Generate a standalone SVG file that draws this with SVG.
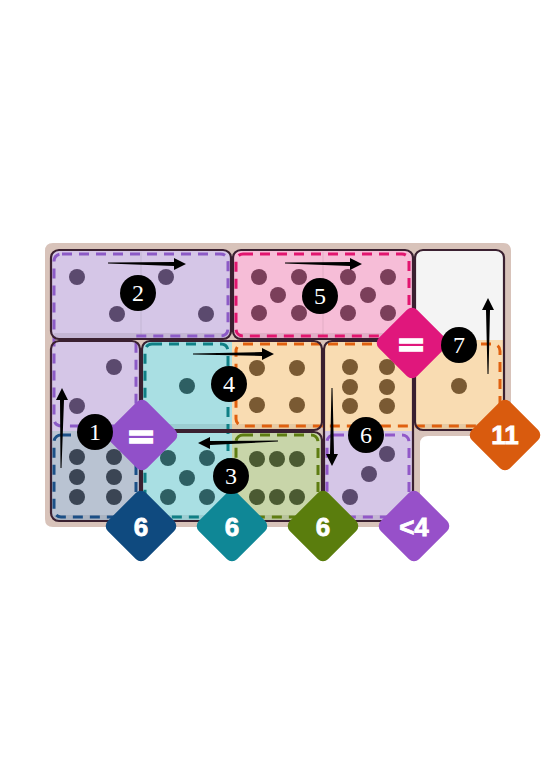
<svg xmlns="http://www.w3.org/2000/svg" width="558" height="773" viewBox="0 0 558 773">
<style>
.outline{fill:none;stroke:#3a2030;stroke-width:2.2}
.div{stroke:#000;stroke-opacity:.08;stroke-width:1}
.shade{fill:#000;fill-opacity:.08}
.region{fill:none;stroke-width:3;stroke-dasharray:10 7;stroke-linecap:butt}
.lav{fill:#d5c6e7}.bgr{fill:#b9c3d2}.tea{fill:#a9dfe3}.pnk{fill:#f6bdd7}.org{fill:#f9dcb2}.grn{fill:#c8d5a9}.wht{fill:#f4f4f4}
.pl{fill:#5b4a6e}.pb{fill:#3b4554}.pt{fill:#2e5f63}.pp{fill:#7b3f5a}.po{fill:#7a5a33}.pg{fill:#4b5a32}
.arrow{fill:#000}
.circ{fill:#000}
.num{fill:#fff;font-family:"Liberation Serif",serif;font-size:24px;text-anchor:middle}
.btxt{fill:#fff;stroke:#fff;stroke-width:0.8;font-family:"Liberation Sans",Arial,sans-serif;font-weight:bold;font-size:26px;text-anchor:middle}
.eq{fill:#fff;stroke:#fff;stroke-width:1.5;font-family:"DejaVu Sans",sans-serif;font-weight:bold;font-size:36px;text-anchor:middle}
</style>

<g id="board">
<path d="M53,243 H503 Q511,243 511,251 V428 Q511,436 503,436 H428 Q420,436 420,444 V519 Q420,527 412,527 H53 Q45,527 45,519 V251 Q45,243 53,243 Z" fill="#d8c3ba"/>
</g>

<g id="domino-2">
<rect x="51" y="250" width="180" height="89" rx="8" class="lav"/>
<rect x="53" y="333" width="176" height="5" rx="2" class="shade"/>
<line x1="141" y1="252" x2="141" y2="337" class="div"/>
<circle cx="77" cy="277" r="8" class="pl"/><circle cx="117" cy="314" r="8" class="pl"/>
<circle cx="166" cy="277" r="8" class="pl"/><circle cx="206" cy="314" r="8" class="pl"/>
</g>

<g id="domino-5">
<rect x="233" y="250" width="180" height="89" rx="8" class="pnk"/>
<rect x="235" y="333" width="176" height="5" rx="2" class="shade"/>
<line x1="323" y1="252" x2="323" y2="337" class="div"/>
<circle cx="259" cy="277" r="8" class="pp"/><circle cx="299" cy="277" r="8" class="pp"/><circle cx="278" cy="295" r="8" class="pp"/><circle cx="259" cy="313" r="8" class="pp"/><circle cx="299" cy="313" r="8" class="pp"/>
<circle cx="348" cy="277" r="8" class="pp"/><circle cx="388" cy="277" r="8" class="pp"/><circle cx="368" cy="295" r="8" class="pp"/><circle cx="348" cy="313" r="8" class="pp"/><circle cx="388" cy="313" r="8" class="pp"/>
</g>

<g id="domino-7">
<path d="M415,258 Q415,250 423,250 H496 Q504,250 504,258 V340 H415 Z" class="wht"/>
<path d="M415,340 H504 V422 Q504,430 496,430 H423 Q415,430 415,422 Z" class="org"/>
<rect x="417" y="424" width="85" height="5" rx="2" class="shade"/>
<circle cx="459" cy="386" r="8" class="po"/>
</g>

<g id="domino-1">
<path d="M51,349 Q51,341 59,341 H132 Q140,341 140,349 V431 H51 Z" class="lav"/>
<path d="M51,431 H140 V513 Q140,521 132,521 H59 Q51,521 51,513 Z" class="bgr"/>
<rect x="53" y="515" width="85" height="5" rx="2" class="shade"/>
<circle cx="114" cy="367" r="8" class="pl"/><circle cx="77" cy="406" r="8" class="pl"/>
<circle cx="77" cy="457" r="8" class="pb"/><circle cx="114" cy="457" r="8" class="pb"/><circle cx="77" cy="477" r="8" class="pb"/><circle cx="114" cy="477" r="8" class="pb"/><circle cx="77" cy="497" r="8" class="pb"/><circle cx="114" cy="497" r="8" class="pb"/>
</g>

<g id="domino-4">
<path d="M142,349 Q142,341 150,341 H232 V430 H150 Q142,430 142,422 Z" class="tea"/>
<path d="M232,341 H314 Q322,341 322,349 V422 Q322,430 314,430 H232 Z" class="org"/>
<rect x="144" y="424" width="176" height="5" rx="2" class="shade"/>
<circle cx="187" cy="386" r="8" class="pt"/>
<circle cx="257" cy="368" r="8" class="po"/><circle cx="297" cy="368" r="8" class="po"/><circle cx="257" cy="405" r="8" class="po"/><circle cx="297" cy="405" r="8" class="po"/>
</g>

<g id="domino-3">
<path d="M142,440 Q142,432 150,432 H232 V521 H150 Q142,521 142,513 Z" class="tea"/>
<path d="M232,432 H314 Q322,432 322,440 V513 Q322,521 314,521 H232 Z" class="grn"/>
<rect x="144" y="515" width="176" height="5" rx="2" class="shade"/>
<circle cx="168" cy="458" r="8" class="pt"/><circle cx="207" cy="458" r="8" class="pt"/><circle cx="187" cy="478" r="8" class="pt"/><circle cx="168" cy="497" r="8" class="pt"/><circle cx="207" cy="497" r="8" class="pt"/>
<circle cx="257" cy="459" r="8" class="pg"/><circle cx="277" cy="459" r="8" class="pg"/><circle cx="297" cy="459" r="8" class="pg"/><circle cx="257" cy="497" r="8" class="pg"/><circle cx="277" cy="497" r="8" class="pg"/><circle cx="297" cy="497" r="8" class="pg"/>
</g>

<g id="domino-6">
<path d="M324,349 Q324,341 332,341 H405 Q413,341 413,349 V431 H324 Z" class="org"/>
<path d="M324,431 H413 V513 Q413,521 405,521 H332 Q324,521 324,513 Z" class="lav"/>
<rect x="326" y="515" width="85" height="5" rx="2" class="shade"/>
<circle cx="350" cy="367" r="8" class="po"/><circle cx="387" cy="367" r="8" class="po"/><circle cx="350" cy="387" r="8" class="po"/><circle cx="387" cy="387" r="8" class="po"/><circle cx="350" cy="406" r="8" class="po"/><circle cx="387" cy="406" r="8" class="po"/>
<circle cx="387" cy="454" r="8" class="pl"/><circle cx="369" cy="474" r="8" class="pl"/><circle cx="350" cy="497" r="8" class="pl"/>
</g>

<g id="regions">
<path d="M62,254 H220 Q228,254 228,262 V328 Q228,336 220,336 H136 V418 Q136,426 128,426 H62 Q54,426 54,418 V262 Q54,254 62,254 Z" class="region" stroke="#8c5ac6"/>
<rect x="54" y="435" width="82" height="82" rx="7" class="region" stroke="#1b4f86"/>
<rect x="145" y="344" width="83" height="173" rx="7" class="region" stroke="#0f7f85"/>
<rect x="236" y="254" width="173" height="82" rx="7" class="region" stroke="#e2156f"/>
<rect x="236" y="344" width="264" height="82" rx="7" class="region" stroke="#e0600f"/>
<rect x="236" y="435" width="82" height="82" rx="7" class="region" stroke="#5e7d12"/>
<rect x="327" y="435" width="82" height="82" rx="7" class="region" stroke="#9158c8"/>
</g>

<g id="outlines">
<rect x="51" y="250" width="180" height="89" rx="8" class="outline"/>
<rect x="233" y="250" width="180" height="89" rx="8" class="outline"/>
<rect x="415" y="250" width="89" height="180" rx="8" class="outline"/>
<rect x="51" y="341" width="89" height="180" rx="8" class="outline"/>
<rect x="142" y="341" width="180" height="89" rx="8" class="outline"/>
<rect x="142" y="432" width="180" height="89" rx="8" class="outline"/>
<rect x="324" y="341" width="89" height="180" rx="8" class="outline"/>
</g>

<g id="connectors">
<path class="arrow" d="M108,262.5 L174,262 L174,258 L186,264 L174,270 L174,266 L108,263.5 Z"/>
<path class="arrow" d="M285,262.5 L350,262 L350,258 L362,264 L350,270 L350,266 L285,263.5 Z"/>
<path class="arrow" d="M193,353.5 L262,352 L262,348 L274,354 L262,360 L262,356 L193,354.5 Z"/>
<path class="arrow" d="M278,440.5 L210,441 L210,437 L198,443 L210,449 L210,445 L278,441.5 Z"/>
<path class="arrow" d="M60.5,468 L60,400 L56,400 L62,388 L68,400 L64,400 L61.5,468 Z"/>
<path class="arrow" d="M331.5,388 L330,454 L326,454 L332,466 L338,454 L334,454 L332.5,388 Z"/>
<path class="arrow" d="M487.5,374 L486,310 L482,310 L488,298 L494,310 L490,310 L488.5,374 Z"/>
</g>

<g id="badge-eq-purple">
<rect x="115" y="408" width="54" height="54" rx="7" transform="rotate(45 142 435)" fill="#9150c9"/>
<text x="141" y="448" class="eq">=</text>
</g>
<g id="badge-eq-pink">
<rect x="385" y="316" width="54" height="54" rx="7" transform="rotate(45 412 343)" fill="#e0177c"/>
<text x="411" y="356" class="eq">=</text>
</g>
<g id="badge-11">
<rect x="478" y="408" width="54" height="54" rx="7" transform="rotate(45 505 435)" fill="#d95b0e"/>
<text x="505" y="444" class="btxt">11</text>
</g>
<g id="badge-6-blue">
<rect x="114" y="499" width="54" height="54" rx="7" transform="rotate(45 141 526)" fill="#0f4a7f"/>
<text x="141" y="536" class="btxt">6</text>
</g>
<g id="badge-6-teal">
<rect x="205" y="499" width="54" height="54" rx="7" transform="rotate(45 232 526)" fill="#0f8796"/>
<text x="232" y="536" class="btxt">6</text>
</g>
<g id="badge-6-green">
<rect x="296" y="499" width="54" height="54" rx="7" transform="rotate(45 323 526)" fill="#5a7d0d"/>
<text x="323" y="536" class="btxt">6</text>
</g>
<g id="badge-lt4">
<rect x="387" y="499" width="54" height="54" rx="7" transform="rotate(45 414 526)" fill="#9750c9"/>
<text x="414" y="536" class="btxt">&lt;4</text>
</g>

<g id="label-1"><circle cx="95" cy="432" r="18" class="circ"/><text x="95" y="440" class="num">1</text></g>
<g id="label-2"><circle cx="138" cy="293" r="18" class="circ"/><text x="138" y="301" class="num">2</text></g>
<g id="label-3"><circle cx="231" cy="476" r="18" class="circ"/><text x="231" y="484" class="num">3</text></g>
<g id="label-4"><circle cx="229" cy="384" r="18" class="circ"/><text x="229" y="392" class="num">4</text></g>
<g id="label-5"><circle cx="320" cy="296" r="18" class="circ"/><text x="320" y="304" class="num">5</text></g>
<g id="label-6"><circle cx="366" cy="435" r="18" class="circ"/><text x="366" y="443" class="num">6</text></g>
<g id="label-7"><circle cx="459" cy="345" r="18" class="circ"/><text x="459" y="353" class="num">7</text></g>
</svg>
